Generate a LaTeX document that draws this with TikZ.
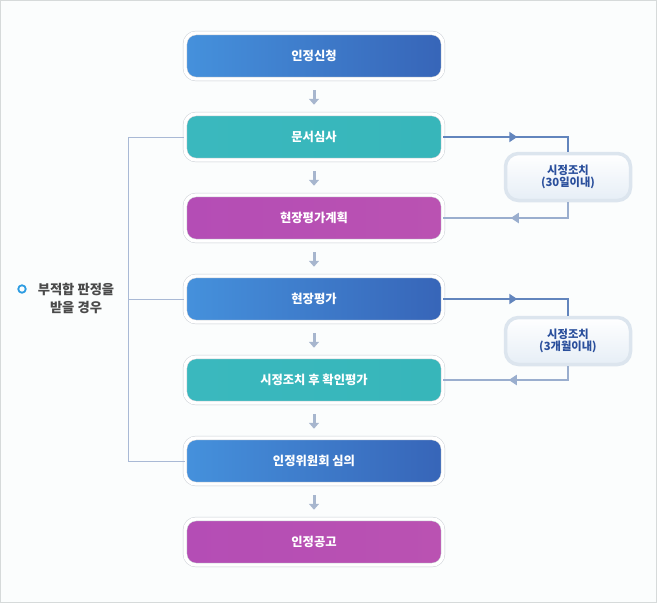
\documentclass[tikz,border=0pt]{standalone}
\usepackage{fontspec}
\setmainfont{Noto Sans CJK KR}
\usetikzlibrary{shadows,decorations.markings,arrows.meta}
\definecolor{bgcol}{HTML}{FBFDFD}
\definecolor{framecol}{HTML}{D6DADA}
\definecolor{boxrim}{HTML}{CBD0D6}
\definecolor{blueL}{HTML}{4591DC}
\definecolor{blueR}{HTML}{3765B8}
\definecolor{tealL}{HTML}{3AB8BE}
\definecolor{tealR}{HTML}{37B6BA}
\definecolor{magL}{HTML}{B44DB5}
\definecolor{magR}{HTML}{BA52B2}
\definecolor{sideglow}{HTML}{DCE5EE}
\definecolor{sidebot}{HTML}{E6EEF6}
\definecolor{sidetext}{HTML}{2A4F9C}
\definecolor{connA}{HTML}{6285BD}
\definecolor{connB}{HTML}{9AAECE}
\definecolor{arrcol}{HTML}{A7B6CE}
\definecolor{brkcol}{HTML}{A9B9D5}
\definecolor{bulletcol}{HTML}{2C9CE2}
\definecolor{lbltext}{HTML}{4A4A4A}
\begin{document}
\begin{tikzpicture}[x=1pt,y=-1pt,
  mainbox/.style={minimum width=258pt, minimum height=46pt, inner sep=0pt,
    rounded corners=11pt, draw=boxrim, line width=0.5pt, double=white,
    double distance=3.4pt, text=white,
    font=\bfseries\fontsize{12.3}{14}\selectfont,
    drop shadow={opacity=0.12, shadow xshift=0pt, shadow yshift=-2pt}},
  bluebox/.style={mainbox, left color=blueL, right color=blueR},
  tealbox/.style={mainbox, left color=tealL, right color=tealR},
  magbox/.style={mainbox, left color=magL, right color=magR},
  sidebox/.style={minimum width=125pt, minimum height=47pt, inner sep=0pt,
    rounded corners=13pt, draw=sideglow, line width=3.5pt,
    top color=white, bottom color=sidebot, align=center, text=sidetext,
    font=\bfseries\fontsize{11.3}{14}\selectfont},
  flowarr/.style={draw=arrcol, line width=3pt, -{Triangle[length=6pt,width=10pt]},
    shorten <=11pt, shorten >=9pt},
  connfwd/.style={draw=connA, line width=1.8pt,
    postaction={decorate, decoration={markings,
      mark=at position 74pt with {\arrow[connA]{Triangle[length=8pt,width=10pt]}}}}},
  connback/.style={draw=connB, line width=1.8pt,
    postaction={decorate, decoration={markings,
      mark=at position 73pt with {\arrow[connB]{Triangle[length=8pt,width=10pt]}}}}},
  brk/.style={draw=brkcol, line width=0.9pt}
]
\useasboundingbox (0,0) rectangle (657,603);
\fill[bgcol] (0,0) rectangle (657,603);
\draw[framecol, line width=1pt] (0.5,0.5) rectangle (656.5,602.5);

\node[bluebox] (b1) at (314,56) {인정신청};
\node[tealbox] (b2) at (314,137) {문서심사};
\node[magbox]  (b3) at (314,218) {현장평가계획};
\node[bluebox] (b4) at (314,299) {현장평가};
\node[tealbox] (b5) at (314,380) {시정조치 후 확인평가};
\node[bluebox] (b6) at (314,461) {인정위원회 심의};
\node[magbox]  (b7) at (314,542) {인정공고};

\draw[flowarr] (b1) -- (b2);
\draw[flowarr] (b2) -- (b3);
\draw[flowarr] (b3) -- (b4);
\draw[flowarr] (b4) -- (b5);
\draw[flowarr] (b5) -- (b6);
\draw[flowarr] (b6) -- (b7);

\node[sidebox] (s1) at (568,177) {시정조치\\[-2pt](30일이내)};
\node[sidebox] (s2) at (568,341) {시정조치\\[-2pt](3개월이내)};

\draw[connfwd] (b2.east) -| (s1.north);
\draw[connback] (s1.south) |- (b3.east);
\draw[connfwd] (b4.east) -| (s2.north);
\draw[connback] (s2.south) |- (b5.east);

\coordinate (k2) at (128,137);
\coordinate (k4) at (128,299);
\coordinate (k6) at (128,461);
\draw[brk, shorten <=1pt] (b2.west) -- (k2) -- (k6) -- (b6.west);
\draw[brk, shorten <=1pt] (b4.west) -- (k4);

\node[circle, draw=bulletcol, line width=1.8pt, minimum size=7.5pt, inner sep=0pt] (bul) at (22,289) {};
\node[align=center, text=lbltext, font=\bfseries\fontsize{13.3}{18}\selectfont, inner sep=0pt] (lbl) at (76,298) {부적합 판정을\\받을 경우};
\end{tikzpicture}
\end{document}
